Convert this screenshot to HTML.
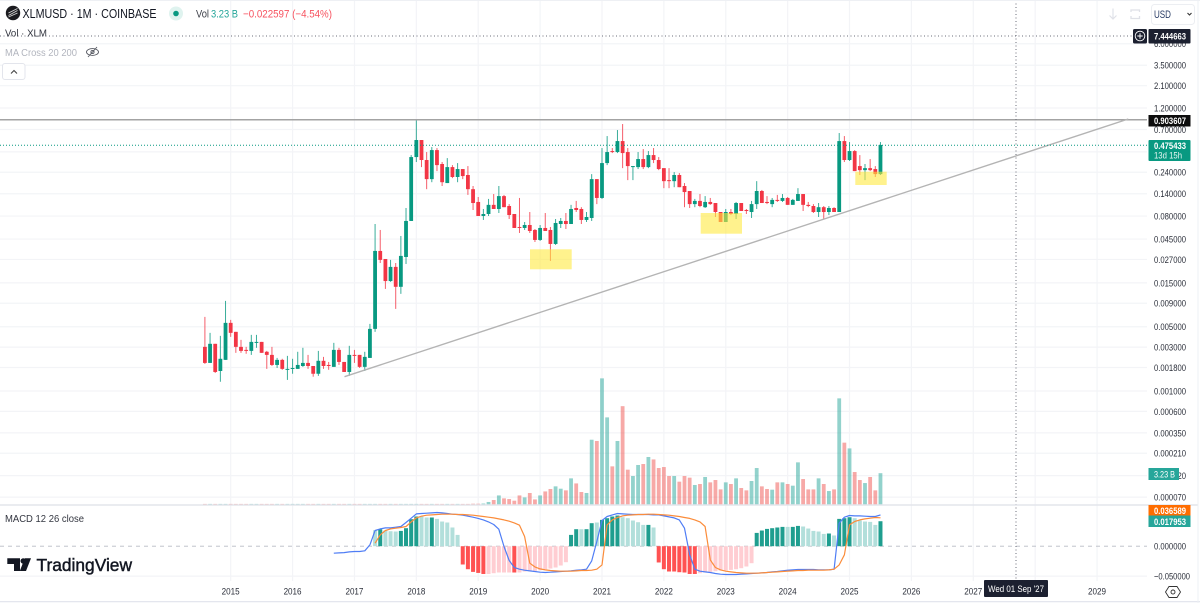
<!DOCTYPE html>
<html lang="en">
<head>
<meta charset="utf-8">
<title>XLMUSD 1M Coinbase chart</title>
<style>
html,body{margin:0;padding:0;background:#fff;width:1200px;height:603px;overflow:hidden}
svg{display:block;font-family:"Liberation Sans",sans-serif}
</style>
</head>
<body>
<svg id="chart" xmlns="http://www.w3.org/2000/svg" width="1200" height="603" viewBox="0 0 1200 603">
  <rect x="0" y="0" width="1200" height="603" fill="#ffffff"/>
  <g id="grid"></g>
  <g id="volume"></g>
  <g id="candles"></g>
  <g id="macd"></g>

  <line x1="0" y1="119.7" x2="1147" y2="119.7" stroke="#a3a3a3" stroke-width="1.5"/>
  <line x1="344.5" y1="376.7" x2="1128.3" y2="119" stroke="#b4b4b4" stroke-width="1.4"/>
  <line x1="0" y1="145.3" x2="1147" y2="145.3" stroke="#089981" stroke-width="1" stroke-dasharray="1 2"/>
  <rect x="530" y="249.3" width="41.7" height="20" fill="#ffe93b" fill-opacity="0.58"/>
  <rect x="700.7" y="213" width="41.3" height="20.7" fill="#ffe93b" fill-opacity="0.58"/>
  <rect x="855.3" y="171.7" width="31.4" height="13.3" fill="#ffe93b" fill-opacity="0.58"/>

  <line x1="1016" y1="0" x2="1016" y2="580" stroke="#6a6d78" stroke-width="1" stroke-dasharray="1 2.5"/>
  <line x1="0" y1="36" x2="1132" y2="36" stroke="#6a6d78" stroke-width="1" stroke-dasharray="1 2.5"/>

  <line x1="0" y1="505" x2="1198" y2="505" stroke="#e3e5ec" stroke-width="1.4"/>
  <line x1="0" y1="601.7" x2="1200" y2="601.7" stroke="#e0e3eb" stroke-width="1.2"/>
  <line x1="0" y1="0.5" x2="1200" y2="0.5" stroke="#eef0f4" stroke-width="1"/>
  <line x1="1198" y1="0" x2="1198" y2="603" stroke="#eef0f4" stroke-width="1"/>

  <g id="axes"></g>

  <!-- legend -->
  <g>
    <circle cx="13" cy="13" r="7.2" fill="#1b1b1f"/>
    <path d="M8.5 15.5 L17.5 10.5 M8.5 13 L17.5 8.5 M8.5 17 L17.5 13" stroke="#d6d6d6" stroke-width="0.9" fill="none"/>
    <text x="22.5" y="18" font-size="12.5" fill="#131722" textLength="134" lengthAdjust="spacingAndGlyphs">XLMUSD · 1M · COINBASE</text>
    <circle cx="176" cy="13.5" r="7" fill="#dff3ef"/>
    <circle cx="176" cy="13.5" r="2.8" fill="#089981"/>
    <text x="196" y="17.5" font-size="11" fill="#3c3f48" textLength="13" lengthAdjust="spacingAndGlyphs">Vol</text>
    <text x="211" y="17.5" font-size="11" fill="#26a69a" textLength="27" lengthAdjust="spacingAndGlyphs">3.23 B</text>
    <text x="243" y="17.5" font-size="11" fill="#f7525f" textLength="89" lengthAdjust="spacingAndGlyphs">−0.022597 (−4.54%)</text>
    <text x="5" y="36.5" font-size="10.5" fill="#333640" textLength="42" lengthAdjust="spacingAndGlyphs">Vol · XLM</text>
    <text x="5" y="56" font-size="10.5" fill="#b2b5be" textLength="72" lengthAdjust="spacingAndGlyphs">MA Cross 20 200</text>
    <g fill="none" stroke="#555861" stroke-width="0.9">
      <ellipse cx="92.5" cy="52" rx="6" ry="3.4"/>
      <circle cx="92.5" cy="52" r="1.6"/>
      <line x1="88" y1="57" x2="97" y2="47"/>
    </g>
    <rect x="2.5" y="63.5" width="22.5" height="16" rx="2.5" fill="#fff" stroke="#e3e5ec"/>
    <path d="M11 73.5 L14 70.5 L17 73.5" fill="none" stroke="#444" stroke-width="1.1"/>
    <text x="5" y="522" font-size="10.5" fill="#333640" textLength="79" lengthAdjust="spacingAndGlyphs">MACD 12 26 close</text>
  </g>

  <!-- top right controls -->
  <g>
    <path d="M1113 8.5 V19 M1109.5 15.5 L1113 19 L1116.5 15.5" fill="none" stroke="#e0e2e8" stroke-width="1.2"/>
    <path d="M1131 12 V10 H1139.5 V12 M1131 16 V18.5 H1139.5 V16" fill="none" stroke="#dfe1e7" stroke-width="1.3"/>
    <rect x="1151.5" y="4.5" width="43" height="20" rx="3" fill="#fff" stroke="#eceef2"/>
    <text x="1154" y="18" font-size="11" fill="#2a3d66" textLength="17" lengthAdjust="spacingAndGlyphs">USD</text>
    <path d="M1187.5 13 L1189.5 15 L1191.5 13" fill="none" stroke="#333" stroke-width="1.1"/>
  </g>

  <!-- price labels -->
  <g>
    <rect x="1133" y="29" width="14" height="14.5" rx="1.5" fill="#1c2030"/>
    <circle cx="1140" cy="36" r="4.8" fill="none" stroke="#fff" stroke-width="0.9"/>
    <path d="M1140 33.3 V38.7 M1137.3 36 H1142.7" stroke="#fff" stroke-width="0.9"/>
    <rect x="1148.5" y="29" width="42" height="14.5" rx="1" fill="#1c2030"/>
    <text x="1154" y="39.5" font-size="9.5" font-weight="700" fill="#fff" textLength="32" lengthAdjust="spacingAndGlyphs">7.444663</text>
    <rect x="1148.5" y="115" width="42" height="11.5" fill="#0d0d0d"/>
    <text x="1154" y="124" font-size="9.5" font-weight="700" fill="#fff" textLength="32" lengthAdjust="spacingAndGlyphs">0.903607</text>
    <rect x="1148.5" y="140" width="42" height="21" rx="1" fill="#089981"/>
    <text x="1154" y="149" font-size="9.5" font-weight="700" fill="#fff" textLength="32" lengthAdjust="spacingAndGlyphs">0.475433</text>
    <text x="1154" y="158.5" font-size="9.5" fill="#e6f6f2" textLength="28" lengthAdjust="spacingAndGlyphs">13d 15h</text>
    <rect x="1148.5" y="468" width="30.5" height="12" fill="#26a69a"/>
    <text x="1154" y="477.5" font-size="9.5" fill="#fff" textLength="21" lengthAdjust="spacingAndGlyphs">3.23 B</text>
    <rect x="1148.5" y="505" width="42" height="10.5" fill="#ff6d00"/>
    <text x="1154" y="513.8" font-size="9.5" font-weight="700" fill="#fff" textLength="32" lengthAdjust="spacingAndGlyphs">0.036589</text>
    <rect x="1148.5" y="515.5" width="42" height="11.5" fill="#26a69a"/>
    <text x="1154" y="524.8" font-size="9.5" font-weight="700" fill="#fff" textLength="32" lengthAdjust="spacingAndGlyphs">0.017953</text>
    <rect x="984" y="580" width="64" height="17" rx="1" fill="#1c2030"/>
    <text x="988" y="592" font-size="9.5" fill="#fff" textLength="56" lengthAdjust="spacingAndGlyphs">Wed 01 Sep '27</text>
    <path d="M1169 586.5 L1177 586.5 L1180.5 592 L1177 597.5 L1169 597.5 L1165.5 592 Z" fill="none" stroke="#333" stroke-width="0.9"/>
    <circle cx="1173" cy="592" r="2" fill="none" stroke="#333" stroke-width="0.9"/>
  </g>

  <!-- logo -->
  <g>
    <path d="M7.3 558.3 H20 V571 H14 V564 H7.3 Z" fill="#131722"/>
    <circle cx="23.2" cy="561" r="2.7" fill="#131722"/>
    <path d="M31 558.3 L26 571 H19.8 L24.8 558.3 Z" fill="#131722"/>
    <text x="36.5" y="570.8" font-size="17.5" font-weight="400" fill="#131722" stroke="#131722" stroke-width="0.45" textLength="95.5" lengthAdjust="spacingAndGlyphs">TradingView</text>
  </g>
</svg>

<script>
// ---- Price series (monthly, Aug 2014 to Jul 2025) ----
const opens = [
.00302,.00202,.00326,.00165,.00218,.00551,.00440,.00302,.00280,.00273,
.00334,.00342,.00267,.00247,.00192,.00218,.00172,.00174,.00174,.00187,
.00202,.00187,.00154,.00213,.00192,.00183,.00280,.00207,.00161,.00247,
.00247,.00183,.00229,.00474,.0334,.0273,.0157,.0224,.0136,.0287,
.0708,.351,.538,.326,.202,.418,.295,.183,.273,.213,
.260,.224,.157,.114,.0802,.0843,.106,.0956,.132,.103,
.0843,.0609,.0594,.0640,.0565,.0440,.0594,.0565,.0398,.0656,
.0708,.0656,.0980,.0956,.0726,.0763,.202,.126,.302,.408,
.398,.524,.398,.273,.273,.334,.273,.369,.326,.266,
.197,.192,.224,.170,.150,.108,.117,.100,.114,.111,
.0886,.0690,.0886,.0843,.111,.0932,.0886,.108,.150,.114,
.108,.120,.117,.126,.106,.117,.139,.106,.103,.0886,
.100,.0886,.0980,.0886,.524,.326,.408,.280,.253,.266,
.260,.229];
const highs = [
.00640,.00429,.00326,.00398,.00956,.00594,.00440,.00360,.00302,.00408,
.00408,.00342,.00273,.00302,.00229,.00224,.00241,.00224,.00267,.00295,
.00247,.00187,.00273,.00235,.00207,.00334,.00295,.00207,.00310,.00280,
.00247,.00267,.00537,.0656,.0565,.0273,.0267,.0247,.0486,.0980,
.369,.910,.538,.398,.451,.440,.310,.342,.287,.302,
.260,.280,.170,.129,.0956,.123,.139,.170,.136,.108,
.0843,.126,.0690,.0886,.0579,.0640,.0864,.0609,.0744,.0763,
.0864,.106,.117,.100,.0886,.229,.202,.440,.594,.440,
.691,.803,.440,.280,.398,.429,.408,.440,.351,.266,
.266,.241,.235,.183,.150,.123,.139,.132,.126,.111,
.0886,.0956,.0956,.114,.111,.0956,.117,.192,.154,.132,
.126,.136,.139,.129,.123,.161,.139,.114,.108,.111,
.103,.103,.100,.641,.594,.511,.418,.369,.295,.334,
.280,.511];
const lows = [
.00197,.00202,.00157,.00126,.00218,.00388,.00260,.00260,.00254,.00247,
.00295,.00260,.00174,.00187,.00178,.00170,.00132,.00154,.00174,.00183,
.00174,.00143,.00146,.00174,.00170,.00183,.00192,.00161,.00146,.00202,
.00178,.00165,.00229,.00440,.0247,.0129,.0154,.00782,.0114,.0241,
.0708,.310,.273,.157,.187,.247,.170,.183,.207,.187,
.202,.136,.0932,.0802,.0726,.0802,.0956,.0864,.100,.0744,
.0594,.0524,.0565,.0524,.0418,.0429,.0551,.0260,.0388,.0594,
.0579,.0656,.0886,.0656,.0690,.0708,.108,.123,.287,.388,
.388,.266,.197,.197,.260,.260,.266,.302,.253,.161,
.161,.165,.165,.100,.0980,.100,.100,.0980,.106,.0782,
.0690,.0690,.0822,.0744,.0909,.0843,.0763,.0956,.111,.108,
.100,.114,.114,.106,.106,.117,.0909,.100,.0864,.0782,
.0744,.0822,.0886,.0886,.310,.318,.247,.224,.197,.247,
.213,.224];
const closes = [
.00202,.00326,.00161,.00224,.00551,.00429,.00302,.00273,.00273,.00342,
.00342,.00260,.00247,.00192,.00218,.00174,.00174,.00178,.00192,.00202,
.00187,.00154,.00213,.00187,.00187,.00280,.00207,.00161,.00247,.00241,
.00183,.00235,.00474,.0334,.0267,.0157,.0224,.0136,.0295,.0708,
.351,.538,.326,.202,.418,.287,.187,.273,.213,.260,
.218,.157,.111,.0802,.0843,.106,.0956,.132,.100,.0822,
.0594,.0594,.0640,.0551,.0440,.0594,.0551,.0398,.0673,.0708,
.0656,.0956,.0932,.0726,.0782,.202,.126,.302,.398,.398,
.524,.388,.280,.280,.334,.273,.369,.326,.260,.192,
.192,.224,.165,.146,.108,.117,.103,.114,.108,.0886,
.0690,.0886,.0843,.111,.0909,.0909,.108,.150,.111,.111,
.120,.117,.126,.106,.120,.139,.106,.103,.0886,.100,
.0886,.0980,.0886,.524,.326,.408,.247,.253,.266,.253,
.229,.475433];

// ---- Volume, in billions ----
const volumes = [
.08,.08,.08,.08,.08,.08,.08,.08,.08,.08,
.08,.08,.08,.08,.08,.08,.08,.08,.08,.08,
.08,.08,.08,.08,.08,.08,.08,.08,.08,.08,
.08,.08,.08,.08,.08,.08,.08,.08,.08,.08,
.08,.08,.08,.08,.08,.08,.08,.08,.08,.08,
.08,.08,.1,.1,.12,.28,.48,.95,.65,.58,
.41,.95,.75,1.2,.54,.95,1.36,1.61,1.88,1.64,
1.47,2.7,2.18,1.3,1.2,6.66,6.53,12.95,8.95,3.93,
6.53,10.1,3.59,2.94,4.07,4.17,4.89,4.64,3.76,3.86,
2.94,2.94,2.36,2.94,2.77,2.02,2.12,2.84,2.29,2.53,
1.57,2.29,2.12,2.7,1.71,1.47,2.43,3.76,1.88,1.61,
1.54,2.29,2.29,2.12,1.95,4.34,2.63,1.57,1.57,2.7,
2.12,1.4,1.57,10.9,6.36,5.77,3.35,2.53,2.22,2.84,
1.47,3.23];

// ---- MACD series (first index of each series is given separately) ----
const macdFirstBar = 25;
const macdValues = [
-.00033,-.00030,-.00028,-.00023,-.00020,-.00020,-.00016,.00003,.00251,.00355,
.00441,.00441,.0051,.0059,.0137,.0338,.0829,.0898,.0957,.102,
.111,.102,.0898,.0777,.0728,.0630,.0512,.0415,.0322,.0237,
.0156,.0090,.00333,-.000007,-.00186,-.0083,-.0119,-.0146,-.0168,-.0192,
-.0222,-.0237,-.0222,-.0208,-.0192,-.0180,-.0168,-.0146,-.0137,-.0119,
-.00202,.00016,.0208,.0480,.0672,.0898,.0829,.0777,.0728,.0728,
.0728,.0728,.0672,.0672,.0545,.0443,.0360,.0237,.00413,-.0005,
-.0119,-.0180,-.0208,-.0237,-.0292,-.0338,-.0360,-.0360,-.0360,-.0338,
-.0318,-.0292,-.0274,-.0258,-.0237,-.0208,-.0192,-.0168,-.0146,-.0137,
-.0127,-.0127,-.0127,-.0127,-.0137,-.0137,-.0137,-.0119,.0119,.0415,
.0590,.0545,.0545,.0512,.0480,.0480,.0672];
const signalFirstBar = 33;
const signalValues = [
.000087,.00095,.00251,.00355,.00413,.0048,.0059,
.0156,.0360,.0512,.0630,.0672,.0728,.0777,.0777,.0777,.0728,
.0728,.0672,.0630,.0545,.0480,.0415,.0360,.0292,.0237,.0180,
.0127,.00779,.00065,-.00333,-.0073,-.0112,-.0137,-.0156,-.0168,-.0180,
-.0180,-.0180,-.0168,-.0156,-.0156,-.0146,-.0119,-.0048,.0083,.0237,
.0390,.0545,.0630,.0672,.0728,.0728,.0777,.0777,.0728,.0672,
.0630,.0545,.0480,.0390,.0322,.0237,.0156,.0059,-.00163,-.0083,
-.0137,-.0180,-.0208,-.0237,-.0258,-.0274,-.0274,-.0274,-.0258,-.0237,
-.0222,-.0208,-.0192,-.0180,-.0168,-.0156,-.0156,-.0146,-.0146,-.0146,
-.0146,-.0137,-.0119,-.0048,-.0005,.0083,.0168,.0237,.0292,.0338,
.0390,.036589];
const histFirstBar = 33;
const histValues = [
.00269,.00333,.00251,.00216,.00202,.00231,.00413,
.0274,.0480,.0480,.0390,.0390,.0292,.0168,.0137,.0048,.00095,
-.0044,-.0119,-.0208,-.0258,-.0322,-.0322,-.0274,-.0237,-.0237,-.0237,
-.0237,-.0237,-.0192,-.0180,-.0168,-.0146,-.0119,-.0103,-.0083,-.00545,
-.00269,.00095,.00333,.00333,.00333,.0119,.0137,.0237,.0338,.0480,
.0590,.0415,.0338,.0208,.0146,.0083,.0083,.0048,-.00285,-.0119,
-.0192,-.0192,-.0222,-.0237,-.0322,-.0322,-.0274,-.0237,-.0208,-.0180,
-.0156,-.0156,-.0137,-.0119,-.0096,-.0067,-.00333,.00149,.00251,.00355,
.00413,.0048,.00545,.00545,.00545,.0067,.0059,.00385,.00231,.00202,
.00119,.0013,.00083,.0292,.0338,.0415,.0338,.0208,.0168,.0156,
.0083,.017953];
// bars drawn in the strong (dark) histogram shade
const histStrongBars = [34,38,39,40,41,44,50,51,52,53,54,60,71,72,74,75,77,78,79,80,86,88,89,90,91,92,93,94,95,107,108,109,110,111,112,114,115,121,123,124,125,131];

// ---- Axis ticks ----
const priceTicks = [6,3.5,2.1,1.2,0.7,0.4,0.24,0.14,0.08,0.045,0.027,0.015,0.009,0.005,0.003,0.0018,0.001,0.0006,0.00035,0.00021,0.00012,0.00007];
const hiddenPriceTicks = [0.4];
const macdTicks = [0,-0.05];
const yearTicks = [2015,2016,2017,2018,2019,2020,2021,2022,2023,2024,2025,2026,2027,2028,2029];
const hiddenYearTicks = [2028];

// ---- Axis functions ----
function timeX(barIndex){ return 204.9 + 5.157 * barIndex; }
function yearX(year){ return timeX(5 + (year - 2015) * 12); }
function priceY(price){ return 115.28 - 91.9 * Math.log10(price); }
function volumeY(volume){ return 504.7 - 9.756 * volume; }
function macdY(value){
  return 546.2 - Math.sign(value) * 4.808 * Math.log(1 + Math.abs(value) / 0.0001);
}

const NS = 'http://www.w3.org/2000/svg';
function svgEl(tag, attrs){
  const el = document.createElementNS(NS, tag);
  for (const k in attrs) el.setAttribute(k, attrs[k]);
  return el;
}
const gridG = document.getElementById('grid');
const volumeG = document.getElementById('volume');
const candlesG = document.getElementById('candles');
const macdG = document.getElementById('macd');
const axesG = document.getElementById('axes');
const GRID = '#f3f4f7';

// grid and tick labels
priceTicks.forEach(function(p){
  const y = priceY(p);
  const line = svgEl('line', {x1:0, y1:y, x2:1147, y2:y, stroke:GRID, 'stroke-width':1.2});
  
  
  gridG.appendChild(line);
  if (hiddenPriceTicks.indexOf(p) >= 0) return;
  const label = svgEl('text', {x:1154, y:y + 3.4, 'font-size':9.5, fill:'#2a2e39', textLength:32, lengthAdjust:'spacingAndGlyphs'});
  label.textContent = p.toFixed(6);
  
  
  axesG.appendChild(label);
});
yearTicks.forEach(function(yr){
  const x = yearX(yr);
  const line = svgEl('line', {x1:x, y1:0, x2:x, y2:581, stroke:GRID, 'stroke-width':1.2});
  
  
  gridG.appendChild(line);
  if (hiddenYearTicks.indexOf(yr) >= 0) return;
  const label = svgEl('text', {x:x, y:594.5, 'font-size':9.5, fill:'#2a2e39', 'text-anchor':'middle', textLength:18, lengthAdjust:'spacingAndGlyphs'});
  label.textContent = String(yr);
  
  
  axesG.appendChild(label);
});
macdTicks.forEach(function(v){
  const y = macdY(v);
  const line = svgEl('line', {x1:0, y1:y, x2:1147, y2:y, stroke:v === 0 ? '#b8bbc4' : GRID, 'stroke-width':v === 0 ? 0.9 : 1.2, 'stroke-dasharray':v === 0 ? '4 4' : 'none'});
  
  
  gridG.appendChild(line);
  const label = svgEl('text', {x:1154, y:y + 3.4, 'font-size':9.5, fill:'#2a2e39', textLength:v < 0 ? 36 : 32, lengthAdjust:'spacingAndGlyphs'});
  label.textContent = (v < 0 ? '−' : '') + Math.abs(v).toFixed(6);
  
  
  axesG.appendChild(label);
});

// volume bars
volumes.forEach(function(v, i){
  const up = closes[i] >= opens[i];
  const top = volumeY(v);
  const bar = svgEl('rect', {x:timeX(i) - 1.9, y:top, width:3.8, height:Math.max(0.8, volumeY(0) - top), fill:up ? '#26a69a' : '#ef5350', 'fill-opacity':0.5});
  
  
  volumeG.appendChild(bar);
});

// candles
opens.forEach(function(o, i){
  const c = closes[i];
  const up = c >= o;
  const color = up ? '#089981' : '#f23645';
  const x = timeX(i);
  const wick = svgEl('line', {x1:x, y1:priceY(highs[i]), x2:x, y2:priceY(lows[i]), stroke:color, 'stroke-width':1, 'stroke-opacity':0.8});
  
  
  candlesG.appendChild(wick);
  const top = Math.min(priceY(o), priceY(c));
  const h = Math.max(1, Math.abs(priceY(o) - priceY(c)));
  const body = svgEl('rect', {x:x - 1.9, y:top, width:3.8, height:h, fill:color});
  
  
  candlesG.appendChild(body);
});

// MACD histogram
histValues.forEach(function(v, n){
  const i = histFirstBar + n;
  const strong = histStrongBars.indexOf(i) >= 0;
  const fill = v >= 0 ? (strong ? '#1f9e8f' : '#b2dfdb') : (strong ? '#ff5252' : '#ffcdd2');
  const y0 = macdY(0), y1 = macdY(v);
  const bar = svgEl('rect', {x:timeX(i) - 2, y:Math.min(y0, y1), width:4, height:Math.abs(y1 - y0), fill:fill});
  
  
  macdG.appendChild(bar);
});

// MACD and signal lines
const signalPoints = signalValues.map(function(v, n){ return timeX(signalFirstBar + n).toFixed(1) + ',' + macdY(v).toFixed(1); }).join(' ');
const macdPoints = macdValues.map(function(v, n){ return timeX(macdFirstBar + n).toFixed(1) + ',' + macdY(v).toFixed(1); }).join(' ');
const macdLine = svgEl('polyline', {points:macdPoints, fill:'none', stroke:'#4f7df5', 'stroke-width':1.2, 'stroke-linejoin':'round'});


macdG.appendChild(macdLine);
const signalLine = svgEl('polyline', {points:signalPoints, fill:'none', stroke:'#fb8c3a', 'stroke-width':1.2, 'stroke-linejoin':'round'});


macdG.appendChild(signalLine);
</script>
</body>
</html>
